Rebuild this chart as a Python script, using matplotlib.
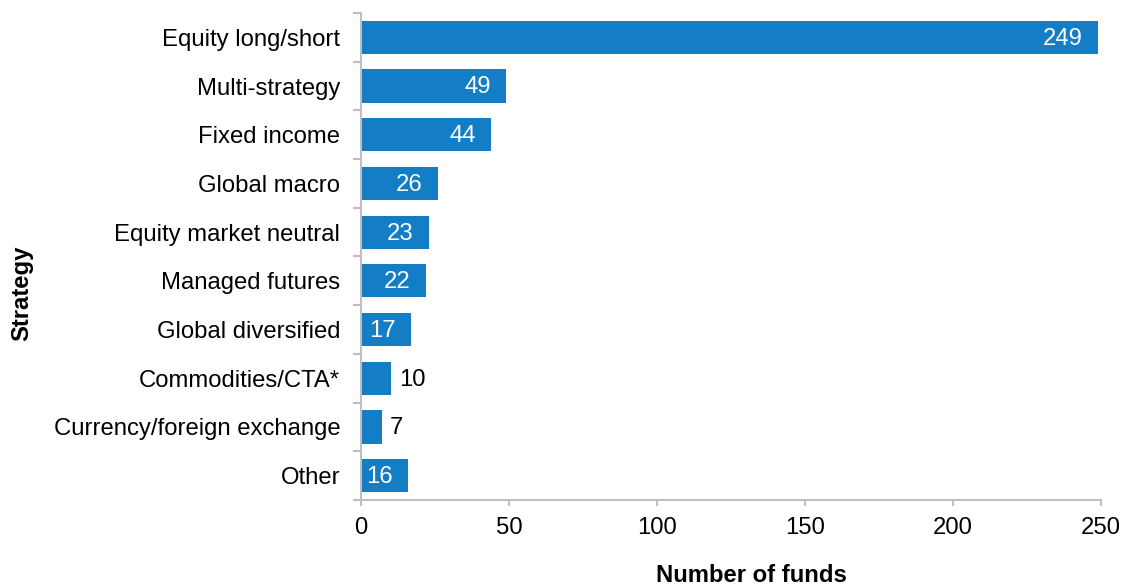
import matplotlib
matplotlib.use("Agg")
import matplotlib.pyplot as plt
import numpy as np

strategies = [
    "Equity long/short",
    "Multi-strategy",
    "Fixed income",
    "Global macro",
    "Equity market neutral",
    "Managed futures",
    "Global diversified",
    "Commodities/CTA*",
    "Currency/foreign exchange",
    "Other",
]
fund_counts = [249, 49, 44, 26, 23, 22, 17, 10, 7, 16]
x_ticks = [0, 50, 100, 150, 200, 250]

plt.rcParams["font.family"] = ["Liberation Sans", "DejaVu Sans"]

bar_color = "#137DC5"
spine_color = "#BFBFBF"
fs = 17.2

fig = plt.figure(figsize=(11.25, 5.87), dpi=100)
ax = fig.add_axes([361 / 1125, 1 - 500 / 587, 740 / 1125, 487 / 587])

y = np.arange(len(strategies))
ax.barh(y, fund_counts, height=0.68, color=bar_color, zorder=2)

ax.set_xlim(0, 250)
ax.set_ylim(len(strategies) - 0.5, -0.5)

for s in ["top", "right"]:
    ax.spines[s].set_visible(False)
for s in ["left", "bottom"]:
    ax.spines[s].set_color(spine_color)
    ax.spines[s].set_linewidth(1.5)

ax.set_yticks(y)
ax.set_yticklabels(strategies)
ax.set_yticks(np.arange(len(strategies) + 1) - 0.5, minor=True)
ax.tick_params(axis="y", which="major", length=0, pad=15, labelsize=fs)
ax.tick_params(axis="y", which="minor", length=6, width=1.5, color=spine_color)

ax.set_xticks(x_ticks)
ax.set_xticklabels([str(t) for t in x_ticks])
ax.tick_params(axis="x", length=4.5, width=1.5, color=spine_color, pad=8, labelsize=fs)

for yi, v in zip(y, fund_counts):
    if v >= 15:
        ax.annotate(str(v), xy=(v, yi), xytext=(-11, -1), textcoords="offset points",
                    ha="right", va="center", color="white", fontsize=fs)
    else:
        ax.annotate(str(v), xy=(v, yi), xytext=(6, -1), textcoords="offset points",
                    ha="left", va="center", color="black", fontsize=fs)

fig.text(751 / 1125, 1 - 576 / 587, "Number of funds", ha="center", va="center",
         fontsize=fs, fontweight="bold")
fig.text(22 / 1125, 0.5, "Strategy", ha="center", va="center", rotation=90,
         fontsize=fs, fontweight="bold")

fig.savefig("out.png", dpi=100)
